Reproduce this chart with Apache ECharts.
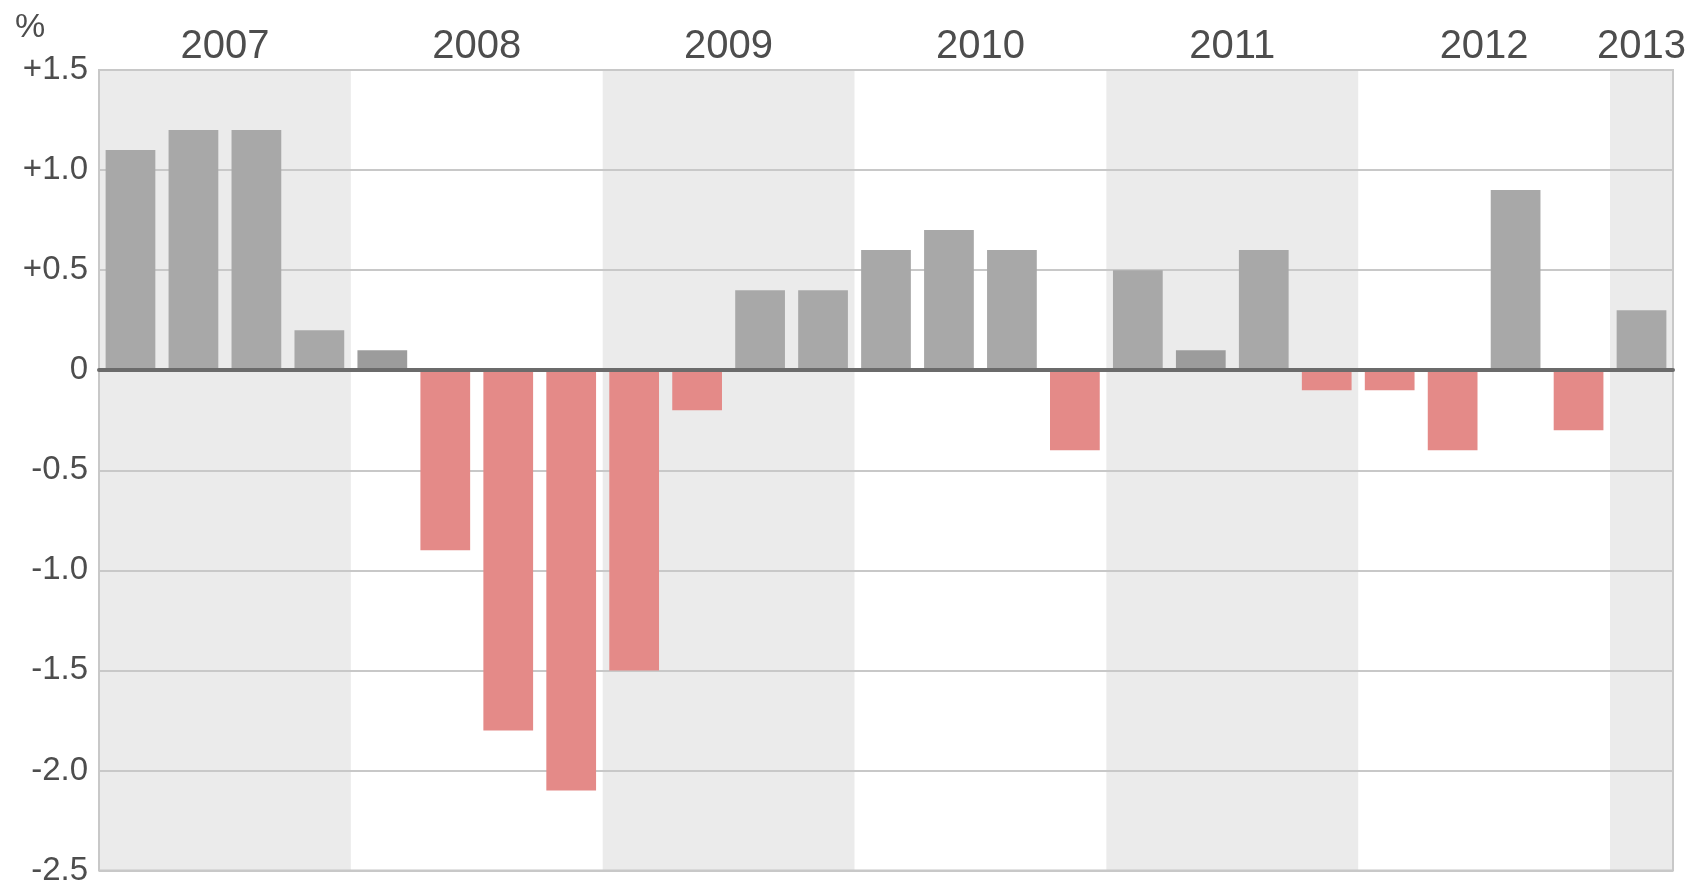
<!DOCTYPE html>
<html>
<head>
<meta charset="utf-8">
<script src="https://cdn.jsdelivr.net/npm/echarts@6/dist/echarts.min.js"></script>
<style>html,body{margin:0;padding:0;background:#fff}#c{width:1700px;height:887px}</style>
</head>
<body>
<div id="c"></div>
<script>
var years = ['2007','2008','2009','2010','2011','2012','2013'];
var quartersPerYear = [4,4,4,4,4,4,1];
var values = [1.1,1.2,1.2,0.2, 0.1,-0.9,-1.8,-2.1, -1.5,-0.2,0.4,0.4, 0.6,0.7,0.6,-0.4, 0.5,0.1,0.6,-0.1, -0.1,-0.4,0.9,-0.3, 0.3];
var yTicks = [-2.5,-2.0,-1.5,-1.0,-0.5,0,0.5,1.0,1.5];

var categories = [];
var yearCenter = {};
var bands = [];
var pos = 0;
years.forEach(function(y, i){
  var n = quartersPerYear[i];
  for (var q = 1; q <= n; q++) categories.push(y + ' Q' + q);
  yearCenter[(pos + n/2).toFixed(1)] = y;
  if (i % 2 === 0) bands.push([{xAxis: pos}, {xAxis: pos + n}]);
  pos += n;
});
var total = pos;

var FONT = '"Liberation Sans", Arial, Helvetica, sans-serif';
var TXT = '#4d4d4d';

var chart = echarts.init(document.getElementById('c'));
chart.setOption({
  animation: false,
  title: { text: '%', left: 10, top: 6, textStyle: { fontFamily: FONT, fontSize: 34, fontWeight: 'normal', color: TXT } },
  grid: { left: 99, right: 27, top: 70, bottom: 14, show: true, borderColor: '#c8c8c8', borderWidth: 2, backgroundColor: 'transparent', z: 5 },
  xAxis: [
    { type: 'category', data: categories, z: 6,
      axisLine: { onZero: true, lineStyle: { color: '#6b6b6b', width: 4 } },
      axisTick: { show: false }, axisLabel: { show: false }, splitLine: { show: false } },
    { type: 'value', position: 'top', min: 0, max: total, interval: 0.5, z: 2,
      axisLine: { show: false }, axisTick: { show: false }, splitLine: { show: false },
      axisLabel: { margin: 3, fontFamily: FONT, fontSize: 40, color: TXT,
        formatter: function(v){ return yearCenter[v.toFixed(1)] || ''; } } }
  ],
  yAxis: {
    type: 'value', min: yTicks[0], max: yTicks[yTicks.length-1], interval: 0.5, z: 2,
    axisLine: { show: false }, axisTick: { show: false },
    splitLine: { lineStyle: { color: '#c8c8c8', width: 2 } },
    axisLabel: { margin: 11, fontFamily: FONT, fontSize: 33, color: TXT,
      formatter: function(v){ if (Math.abs(v) < 1e-9) return '0'; return (v > 0 ? '+' : '') + v.toFixed(1); } }
  },
  series: [
    { type: 'line', xAxisIndex: 1, data: [[0, 0]], symbol: 'none', silent: true, z: 0,
      lineStyle: { opacity: 0 },
      markArea: { silent: true, z: 0, itemStyle: { color: '#ebebeb' }, data: bands } },
    { type: 'bar', xAxisIndex: 0, data: values, barCategoryGap: '21%', z: 3,
      itemStyle: { color: function(p){ var v = p.value; if (v < 0) return '#e48a88'; return v < 0.15 ? '#9c9c9c' : '#a8a8a8'; } } }
  ]
});
</script>
</body>
</html>
